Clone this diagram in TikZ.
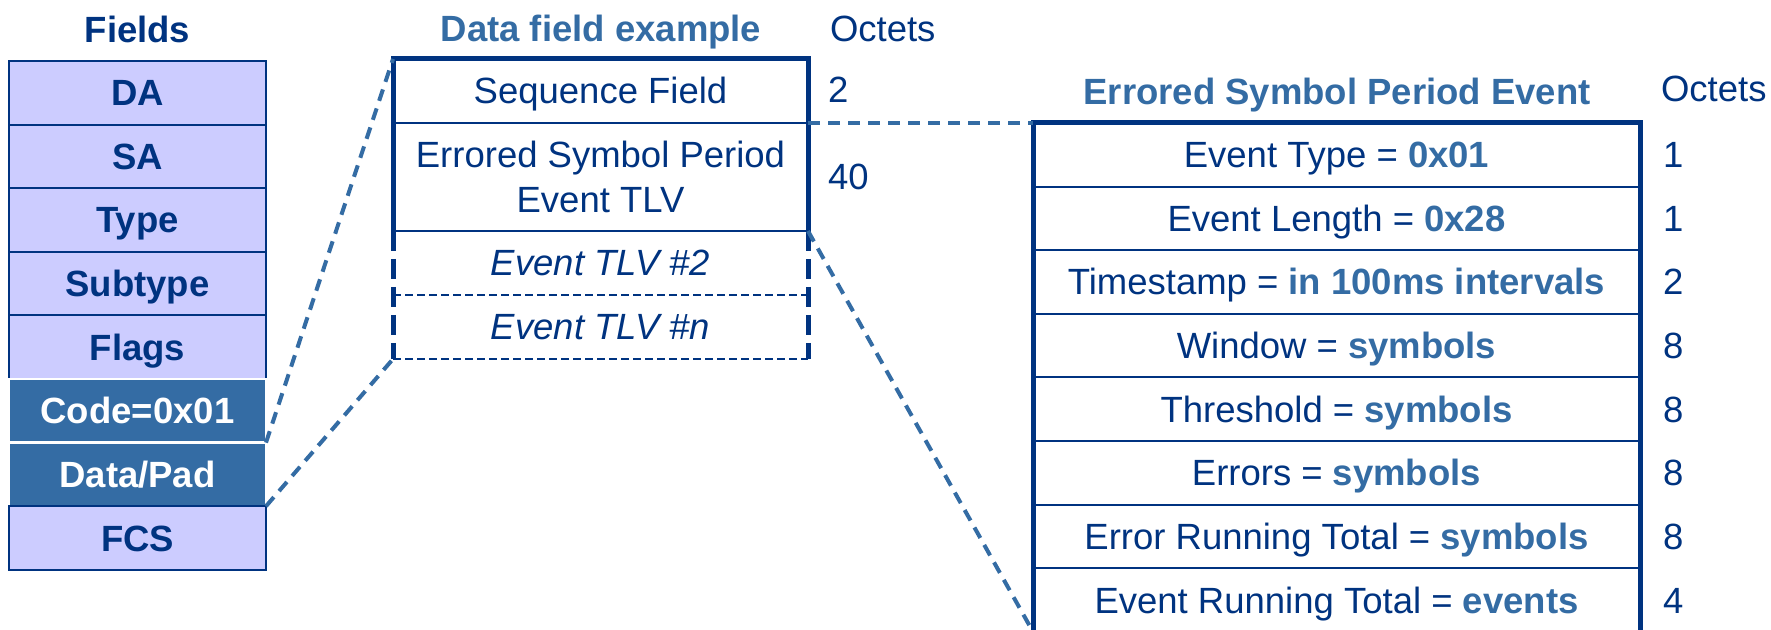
\documentclass[tikz,border=0pt]{standalone}
\usepackage{fontspec}
\setmainfont{Liberation Sans}
\usetikzlibrary{calc}
\definecolor{dblue}{RGB}{0,51,128}
\definecolor{mblue}{RGB}{52,108,164}
\definecolor{lav}{RGB}{204,204,255}
\newcommand\fsz{\fontsize{18.25}{22.5}\selectfont}
\newcommand\hv[1]{{\bfseries\color{mblue}#1}}
\begin{document}
\begin{tikzpicture}[x=0.5pt,y=-0.5pt,
  every node/.style={inner sep=0pt, outer sep=0pt, font=\fsz, text=dblue},
  lrow/.style={draw=dblue, line width=1pt, fill=lav, minimum width=128.5pt, minimum height=31.8pt,
    font=\fsz\bfseries, text height=13pt, text depth=0pt},
  drow/.style={draw=white, line width=1.2pt, fill=mblue, text=white, minimum width=128.5pt, minimum height=31.8pt,
    font=\fsz\bfseries, text height=13pt, text depth=0pt},
  mrow/.style={minimum width=207.5pt, text height=13pt, text depth=0pt},
  rrow/.style={draw=dblue, line width=1pt, minimum width=303.5pt, minimum height=31.8pt, text height=13pt, text depth=0pt},
  title/.style={anchor=base, font=\fsz\bfseries},
  oct/.style={anchor=base west},
  num/.style={anchor=west, text height=13pt, text depth=0pt},
  conn/.style={draw=mblue, line width=2pt, dash pattern=on 6pt off 4pt},
  thickb/.style={draw=dblue, line width=2.5pt},
  thinb/.style={draw=dblue, line width=1pt}
]
\useasboundingbox (0,0) rectangle (1771,630);

% Left column
\node[title] (ftitle) at (137.5,43) {Fields};
\node[lrow] (da) at (137.5,92.8) {DA};
\node[lrow] (sa) at (137.5,156.4) {SA};
\node[lrow] (type) at (137.5,220) {Type};
\node[lrow] (subtype) at (137.5,283.6) {Subtype};
\node[lrow] (flags) at (137.5,347.2) {Flags};
\node[drow] (code) at (137.5,410.8) {Code=0x01};
\node[drow] (datapad) at (137.5,474.4) {Data/Pad};
\node[lrow] (fcs) at (137.5,538) {FCS};

% Middle column
\node[title, text=mblue] (dtitle) at (601,42) {Data field example};
\node[oct] (octm) at (830,42) {Octets};
\node[mrow, minimum height=32pt] (seq) at (600.5,91) {Sequence Field};
\node[minimum width=207.5pt, minimum height=54pt, align=center] (err) at (600.5,177) {Errored Symbol Period\\Event TLV};
\node[mrow, minimum height=32pt, font=\fsz\itshape] (tlv2) at (600.5,263) {Event TLV \#2};
\node[mrow, minimum height=32pt, font=\fsz\itshape] (tlvn) at (600.5,327) {Event TLV \#n};
\node[oct] (n2) at (828,103) {2};
\node[oct] (n40) at (828,190) {40};

\draw[thickb] (err.south west) -- (seq.north west) -- (seq.north east) -- (err.south east);
\draw[thinb] (seq.south west) -- (seq.south east);
\draw[thinb] (err.south west) -- (err.south east);
\draw[thickb, dash pattern=on 10pt off 4pt] (err.south west) -- (tlvn.south west);
\draw[thickb, dash pattern=on 10pt off 4pt] (err.south east) -- (tlvn.south east);
\draw[draw=dblue, line width=1.2pt, dash pattern=on 4pt off 2pt] (tlv2.south west) -- (tlv2.south east);
\draw[draw=dblue, line width=1.2pt, dash pattern=on 4pt off 2pt] (tlvn.south west) -- (tlvn.south east);

% Right column
\node[title, text=mblue] (etitle) at (1337,105) {Errored Symbol Period Event};
\node[oct] (octr) at (1661,102) {Octets};
\node[rrow] (r1) at (1336.5,154.8) {Event Type = \hv{0x01}};
\node[rrow] (r2) at (1336.5,218.4) {Event Length = \hv{0x28}};
\node[rrow] (r3) at (1336.5,282) {Timestamp = \hv{in 100ms intervals}};
\node[rrow] (r4) at (1336.5,345.6) {Window = \hv{symbols}};
\node[rrow] (r5) at (1336.5,409.2) {Threshold = \hv{symbols}};
\node[rrow] (r6) at (1336.5,472.8) {Errors = \hv{symbols}};
\node[rrow] (r7) at (1336.5,536.4) {Error Running Total = \hv{symbols}};
\node[rrow] (r8) at (1336.5,600) {Event Running Total = \hv{events}};
\draw[thickb] (r8.south west) -- (r1.north west) -- (r1.north east) -- (r8.south east);

\node[num] (o1) at ($(r1.east)+(23,0)$) {1};
\node[num] (o2) at ($(r2.east)+(23,0)$) {1};
\node[num] (o3) at ($(r3.east)+(23,0)$) {2};
\node[num] (o4) at ($(r4.east)+(23,0)$) {8};
\node[num] (o5) at ($(r5.east)+(23,0)$) {8};
\node[num] (o6) at ($(r6.east)+(23,0)$) {8};
\node[num] (o7) at ($(r7.east)+(23,0)$) {8};
\node[num] (o8) at ($(r8.east)+(23,0)$) {4};

% Connectors
\draw[conn] (code.south east) -- (seq.north west);
\draw[conn] (datapad.south east) -- (tlvn.south west);
\draw[conn] (seq.south east) -- (r1.north west);
\draw[conn] (err.south east) -- (r8.south west);
\end{tikzpicture}
\end{document}
